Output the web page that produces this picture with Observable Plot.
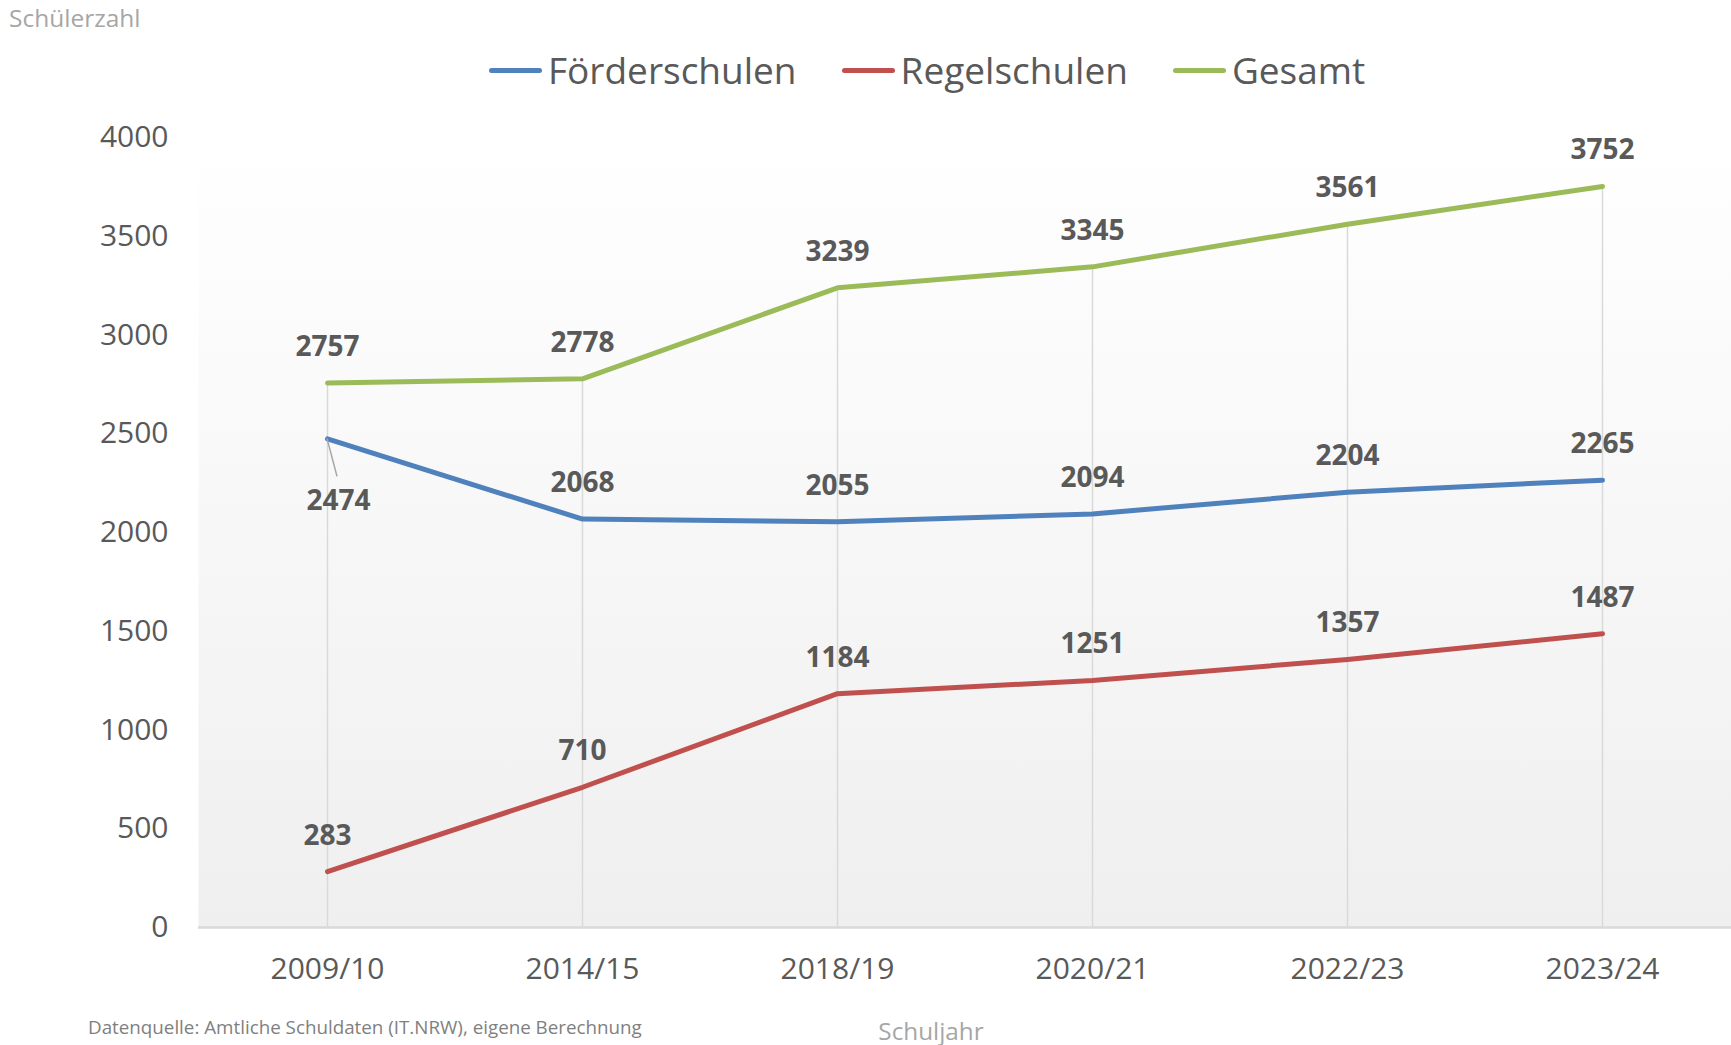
<!DOCTYPE html>
<html>
<head>
<meta charset="utf-8">
<script src="https://cdn.jsdelivr.net/npm/d3@7"></script>
<script src="https://cdn.jsdelivr.net/npm/@observablehq/plot@0.6"></script>
<style>
  html, body { margin: 0; padding: 0; background: #fff; }
  body { font-family: "Open Sans", sans-serif; width: 1731px; height: 1045px; overflow: hidden; }
  #header { position: relative; height: 100px; }
  #ytitle { position: absolute; left: 9px; top: 1px; font-size: 24.5px; color: #a6a6a6; }
  #legend { position: absolute; left: 489px; top: 44px; display: flex; align-items: center; font-size: 37px; color: #595959; line-height: 52px; }
  .item { display: flex; align-items: center; margin-right: 45px; }
  .sw { width: 53px; height: 5px; border-radius: 3px; margin-right: 6px; }
  #footer { position: relative; height: 45px; }
  #source { position: absolute; left: 88px; top: 14px; font-size: 18.8px; color: #7f7f7f; }
  #xtitle { position: absolute; left: 871px; top: 14px; font-size: 24.3px; color: #a6a6a6; width: 120px; text-align: center; }
</style>
</head>
<body>
<div id="header">
  <div id="ytitle">Schülerzahl</div>
  <div id="legend"></div>
</div>
<div id="chart"></div>
<div id="footer">
  <div id="source">Datenquelle: Amtliche Schuldaten (IT.NRW), eigene Berechnung</div>
  <div id="xtitle">Schuljahr</div>
</div>
<script>
const years = ["2009/10", "2014/15", "2018/19", "2020/21", "2022/23", "2023/24"];
const foerderschulen = [2474, 2068, 2055, 2094, 2204, 2265];
const regelschulen = [283, 710, 1184, 1251, 1357, 1487];
const gesamt = [2757, 2778, 3239, 3345, 3561, 3752];
const seriesNames = ["Förderschulen", "Regelschulen", "Gesamt"];
const seriesColors = ["#4f81bd", "#c0504d", "#9bbb59"];
const yTicks = [0, 500, 1000, 1500, 2000, 2500, 3000, 3500, 4000];

const seriesValues = [foerderschulen, regelschulen, gesamt];
const rows = [];
seriesNames.forEach((s, i) => years.forEach((y, j) => rows.push({series: s, year: y, value: seriesValues[i][j]})));
const totals = years.map((y, j) => ({year: y, value: gesamt[j]}));

// legend
const legend = document.getElementById("legend");
seriesNames.forEach((s, i) => {
  const it = document.createElement("div");
  it.className = "item";
  it.innerHTML = `<span class="sw" style="background:${seriesColors[i]}"></span><span>${s}</span>`;
  legend.appendChild(it);
});

const firstLabelShifted = d => d.series === "Förderschulen" && d.year === years[0];

const leader = (index, scales) => {
  const x0 = scales.x(years[0]), y0 = scales.y(foerderschulen[0]);
  const g = d3.create("svg:g");
  g.append("line").attr("x1", x0).attr("y1", y0).attr("x2", x0 + 10).attr("y2", y0 + 38)
    .attr("stroke", "#a6a6a6").attr("stroke-width", 1.5);
  return g.node();
};

const chart = Plot.plot({
  width: 1731,
  height: 900,
  marginTop: 37,
  marginBottom: 73,
  marginLeft: 198,
  marginRight: 0,
  style: {fontFamily: "'Open Sans', sans-serif", fontSize: "30px", color: "#595959", background: "transparent"},
  x: {type: "point", domain: years, padding: 0.5, align: 0.5, tickSize: 0, tickPadding: 30, label: null},
  y: {domain: [0, 4000], ticks: yTicks, tickSize: 0, tickPadding: 30, label: null, tickFormat: d => String(d)},
  color: {domain: seriesNames, range: seriesColors},
  marks: [
    Plot.frame({fill: "url(#bgGrad)", stroke: null}),
    Plot.ruleX(totals, {x: "year", y1: 0, y2: "value", stroke: "#d9d9d9", strokeWidth: 1.5}),
    Plot.ruleY([0], {stroke: "#d9d9d9", strokeWidth: 2.5}),
    Plot.line(rows, {x: "year", y: "value", z: "series", stroke: "series", strokeWidth: 5, strokeLinecap: "round", strokeLinejoin: "round"}),
    leader,
    Plot.text(rows.filter(d => !firstLabelShifted(d)), {x: "year", y: "value", text: d => String(d.value), dy: -36, fill: "#595959", fontWeight: "bold", fontSize: 28}),
    Plot.text(rows.filter(firstLabelShifted), {x: "year", y: "value", text: d => String(d.value), dx: 11, dy: 62, fill: "#595959", fontWeight: "bold", fontSize: 28})
  ]
});

const svg = d3.select(chart);
const defs = svg.insert("defs", ":first-child");
const grad = defs.append("linearGradient").attr("id", "bgGrad").attr("x1", 0).attr("y1", 0).attr("x2", 0).attr("y2", 1);
grad.append("stop").attr("offset", "0%").attr("stop-color", "#ffffff");
grad.append("stop").attr("offset", "100%").attr("stop-color", "#efefef");
document.getElementById("chart").appendChild(chart);
</script>
</body>
</html>
